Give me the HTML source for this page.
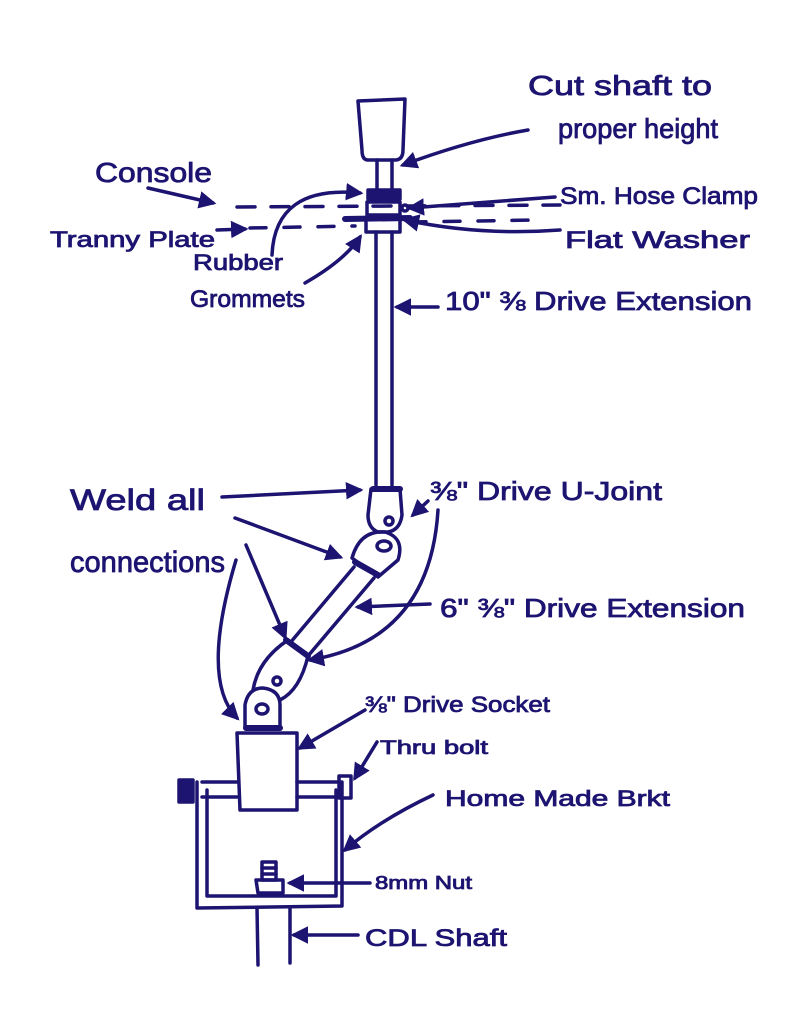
<!DOCTYPE html>
<html><head><meta charset="utf-8"><style>
html,body{margin:0;padding:0;background:#fff;}
svg{display:block}
text{font-family:"Liberation Sans",sans-serif;fill:#1c1470;stroke:#1c1470;stroke-width:0.8;}
</style></head><body>
<svg width="800" height="1010" viewBox="0 0 800 1010" xmlns="http://www.w3.org/2000/svg">
<defs>
<marker id="a" viewBox="0 0 10 10" refX="8" refY="5" markerWidth="5" markerHeight="5" orient="auto"><path d="M0,0 L10,5 L0,10 z" fill="#1c1470"/></marker>
</defs>
<g fill="none" stroke="#1c1470" stroke-width="3.5" stroke-linecap="round" stroke-linejoin="round">
<path d="M358,101 L405,99 L403,150 Q403,160 395,160 L368,160 Q362,160 362,150 Z"/>
<path d="M377,160 L377,190 M392,160 L392,190"/>
<rect x="368" y="190" width="32" height="9" fill="#1c1470"/>
<rect x="367" y="202" width="33" height="13"/>
<circle cx="405" cy="208" r="3"/>
<path d="M345,219 L410,218" stroke-width="6"/>
<path d="M366,219 L366,232 L400,232 L400,219"/>
<path d="M376,232 L376,485 M392,232 L392,485"/>
<path d="M237,207 L560,205" stroke-dasharray="18,16"/>
<path d="M250,228 L355,226 M410,222 L540,220" stroke-dasharray="16,18"/>
<path d="M371,489 L400,489 L402,515 Q400,530 388,532 L378,532 Q368,528 368,515 Z"/>
<path d="M373,489 L400,489" stroke-width="6"/>
<circle cx="389" cy="521" r="4"/>
<path d="M352,558 Q360,530 385,532 Q405,538 398,560 L378,577 Z"/>
<ellipse cx="384" cy="546" rx="7" ry="5"/>
<path d="M355,562 L378,575" stroke-width="6"/>
<path d="M354,567 L290,643 M374,578 L308,656"/>
<path d="M286,640 L308,656" stroke-width="6"/>
<path d="M288,640 Q258,660 253,690 M308,656 Q300,690 280,700"/>
<circle cx="277" cy="681" r="4"/>
<path d="M245,728 L245,705 Q248,688 263,688 Q280,690 280,705 L280,728 Z"/>
<ellipse cx="262" cy="709" rx="6" ry="5"/>
<path d="M246,728 L280,728" stroke-width="6"/>
<path d="M237,733 L297,733 L297,810 L240,810 Z"/>
<path d="M202,782 L237,782 M297,782 L340,782 M202,797 L237,797 M297,797 L340,797"/>
<rect x="179" y="780" width="14" height="22" fill="#1c1470"/>
<rect x="339" y="776" width="12" height="22"/>
<path d="M197,782 L197,908 L342,906 L342,782"/>
<path d="M207,790 L207,896 L336,896 L336,790"/>
<rect x="262" y="862" width="14" height="18"/>
<path d="M262,868 L276,868 M262,874 L276,874"/>
<path d="M256,880 L283,880 L283,893 L258,893 Z"/>
<path d="M257,908 L258,965 M290,908 L290,963"/>
<g marker-end="url(#a)">
<path d="M528,130 Q470,140 403,165"/>
<path d="M148,188 L213,203"/>
<path d="M217,230 L245,229"/>
<path d="M272,255 Q275,185 360,193"/>
<path d="M305,283 Q345,260 360,237"/>
<path d="M555,197 L410,208"/>
<path d="M560,230 Q480,236 405,220"/>
<path d="M438,307 L397,307"/>
<path d="M222,497 L360,490"/>
<path d="M235,518 L340,557"/>
<path d="M246,545 L285,637"/>
<path d="M236,560 Q200,680 237,718"/>
<path d="M428,501 L413,515"/>
<path d="M438,510 Q430,640 310,660"/>
<path d="M430,604 L358,607"/>
<path d="M365,710 L300,748"/>
<path d="M377,742 L355,778"/>
<path d="M433,795 Q380,820 345,850"/>
<path d="M370,883 L290,883"/>
<path d="M358,935 L294,935"/>
</g>
</g>
<g>
<text x="528" y="95" font-size="28" textLength="184" lengthAdjust="spacingAndGlyphs">Cut shaft to</text>
<text x="558" y="138" font-size="28" textLength="160" lengthAdjust="spacingAndGlyphs">proper height</text>
<text x="95" y="182" font-size="28" textLength="117" lengthAdjust="spacingAndGlyphs">Console</text>
<text x="560" y="204" font-size="24" textLength="198" lengthAdjust="spacingAndGlyphs">Sm. Hose Clamp</text>
<text x="50" y="247" font-size="22" textLength="165" lengthAdjust="spacingAndGlyphs">Tranny Plate</text>
<text x="565" y="248" font-size="24" textLength="185" lengthAdjust="spacingAndGlyphs">Flat Washer</text>
<text x="193" y="270" font-size="22" textLength="90" lengthAdjust="spacingAndGlyphs">Rubber</text>
<text x="190" y="307" font-size="24" textLength="115" lengthAdjust="spacingAndGlyphs">Grommets</text>
<text x="445" y="310" font-size="26" textLength="307" lengthAdjust="spacingAndGlyphs">10" ⅜ Drive Extension</text>
<text x="70" y="510" font-size="30" textLength="135" lengthAdjust="spacingAndGlyphs">Weld all</text>
<text x="70" y="572" font-size="30" textLength="155" lengthAdjust="spacingAndGlyphs">connections</text>
<text x="430" y="500" font-size="26" textLength="232" lengthAdjust="spacingAndGlyphs">⅜" Drive U-Joint</text>
<text x="440" y="617" font-size="26" textLength="305" lengthAdjust="spacingAndGlyphs">6" ⅜" Drive Extension</text>
<text x="365" y="712" font-size="22" textLength="185" lengthAdjust="spacingAndGlyphs">⅜" Drive Socket</text>
<text x="380" y="754" font-size="19" textLength="108" lengthAdjust="spacingAndGlyphs">Thru bolt</text>
<text x="445" y="806" font-size="22" textLength="225" lengthAdjust="spacingAndGlyphs">Home Made Brkt</text>
<text x="375" y="889" font-size="18" textLength="97" lengthAdjust="spacingAndGlyphs">8mm Nut</text>
<text x="365" y="946" font-size="24" textLength="142" lengthAdjust="spacingAndGlyphs">CDL Shaft</text>
</g>
</svg>
</body></html>
